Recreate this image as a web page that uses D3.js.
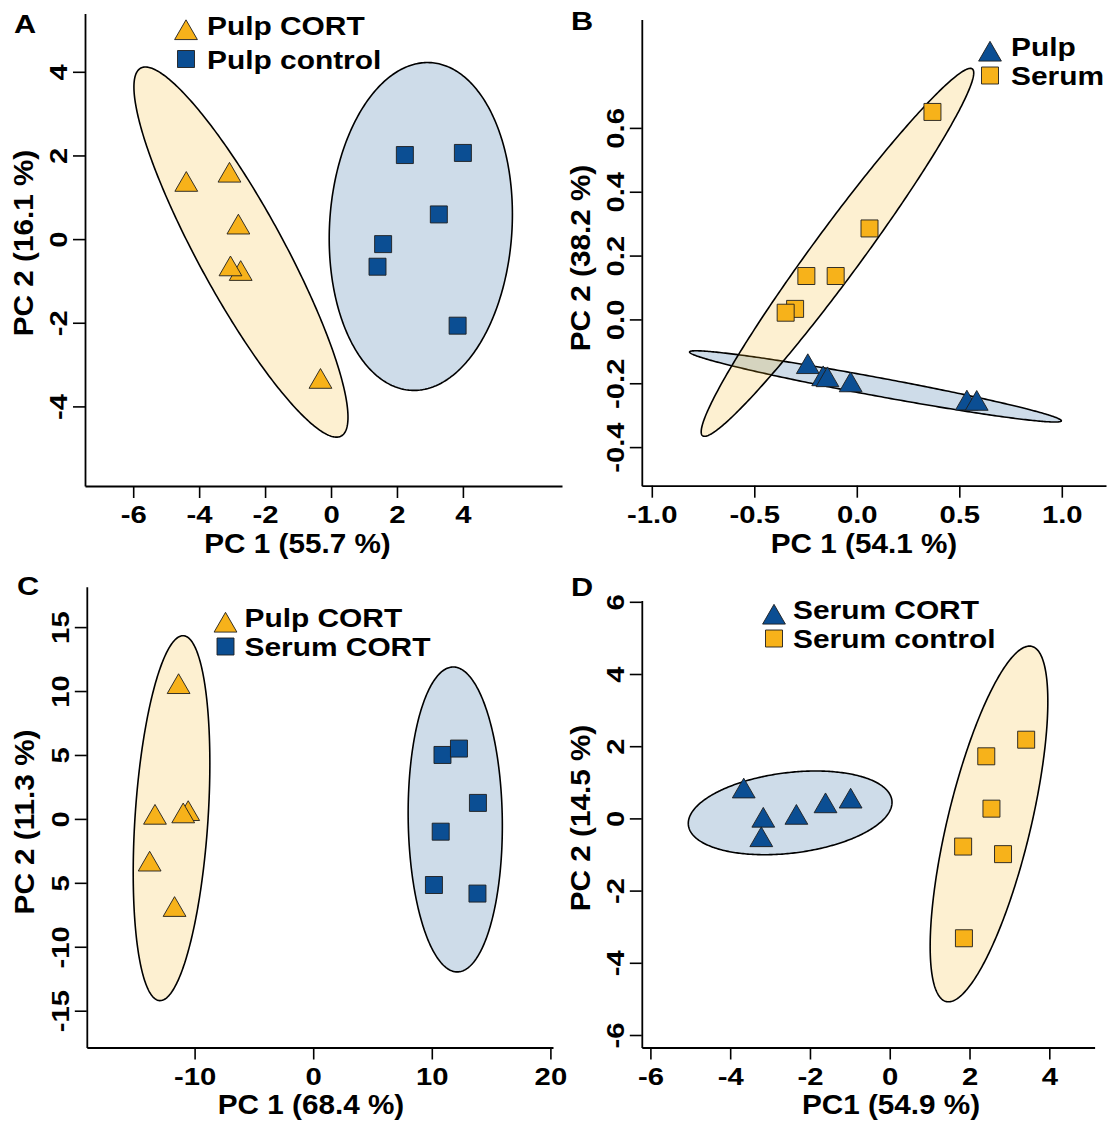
<!DOCTYPE html>
<html>
<head>
<meta charset="utf-8">
<script src="https://cdn.jsdelivr.net/npm/d3@7"></script>
<style>
  body { margin: 0; background: #ffffff; }
  svg { display: block; }
  text { font-family: "Liberation Sans", Arial, Helvetica, sans-serif; font-weight: bold; fill: #000; }
</style>
</head>
<body>
<svg id="chart" width="1107" height="1124"></svg>
<script>
// ---------------- DATA ----------------
// Panel A: Pulp CORT vs Pulp control
const aCortPC1 = [-4.39, -3.08, -2.81, -2.74, -3.05, -0.32];
const aCortPC2 = [1.30, 1.52, 0.28, -0.83, -0.72, -3.41];
const aCtrlPC1 = [2.24, 4.00, 3.27, 1.58, 1.41, 3.84];
const aCtrlPC2 = [2.01, 2.06, 0.59, -0.12, -0.66, -2.07];
const aXTicks = [-6, -4, -2, 0, 2, 4];
const aXLabels = ["-6", "-4", "-2", "0", "2", "4"];
const aYTicks = [-4, -2, 0, 2, 4];
const aYLabels = ["-4", "-2", "0", "2", "4"];

// Panel B: Pulp vs Serum
const bPulpPC1 = [-0.239, -0.164, -0.143, -0.030, 0.537, 0.585];
const bPulpPC2 = [-0.149, -0.187, -0.190, -0.206, -0.263, -0.264];
const bSerumPC1 = [0.369, 0.062, -0.246, -0.103, -0.301, -0.347];
const bSerumPC2 = [0.650, 0.285, 0.136, 0.136, 0.033, 0.021];
const bXTicks = [-1.0, -0.5, 0.0, 0.5, 1.0];
const bXLabels = ["-1.0", "-0.5", "0.0", "0.5", "1.0"];
const bYTicks = [-0.4, -0.2, 0.0, 0.2, 0.4, 0.6];
const bYLabels = ["-0.4", "-0.2", "0.0", "0.2", "0.4", "0.6"];

// Panel C: Pulp CORT vs Serum CORT
const cPulpPC1 = [-11.35, -13.34, -10.54, -10.96, -13.79, -11.69];
const cPulpPC2 = [10.32, 0.10, 0.39, 0.21, -3.56, -7.11];
const cSerumPC1 = [10.90, 12.29, 13.89, 10.75, 10.18, 13.85];
const cSerumPC2 = [5.00, 5.50, 1.25, -1.00, -5.17, -5.84];
const cXTicks = [-10, 0, 10, 20];
const cXLabels = ["-10", "0", "10", "20"];
const cYTicks = [-15, -10, -5, 0, 5, 10, 15];
const cYLabels = ["-15", "-10", "5", "0", "5", "10", "15"];

// Panel D: Serum CORT vs Serum control
const dCortPC1 = [-3.66, -3.17, -3.22, -2.34, -1.61, -0.98];
const dCortPC2 = [0.75, -0.06, -0.60, 0.02, 0.34, 0.47];
const dCtrlPC1 = [3.42, 2.42, 2.55, 1.84, 2.84, 1.86];
const dCtrlPC2 = [2.18, 1.72, 0.27, -0.78, -0.99, -3.32];
const dXTicks = [-6, -4, -2, 0, 2, 4];
const dXLabels = ["-6", "-4", "-2", "0", "2", "4"];
const dYTicks = [-6, -4, -2, 0, 2, 4, 6];
const dYLabels = ["-6", "-4", "-2", "0", "2", "4", "6"];

// ---------------- STYLE ----------------
const ORANGE = "#F7B21A";
const BLUE = "#0B4E93";
const TICK_FONT = 24, TICK_SX = 1.22;
const TITLE_FONT = 27, TITLE_SX = 1.1;
const LEG_FONT = 26, LEG_SX = 1.15;
const LETTER_FONT = 26, LETTER_SX = 1.18;
const CONF_K = Math.sqrt(-2 * Math.log(0.05)); // 95% normal ellipse

const panels = [
  {
    letter: "A", letterPos: [14, 33],
    xRange: [85, 562], yRange: [486, 13.6],
    xAnchor: [-6, 133.2, 4, 462.9], yAnchor: [4, 71.8, -4, 406.4],
    xTicks: aXTicks, xLabels: aXLabels, yTicks: aYTicks, yLabels: aYLabels,
    xTitle: "PC 1 (55.7 %)", xTitlePos: [297.5, 552.5],
    yTitle: "PC 2 (16.1 %)", yTitlePos: [33, 243],
    groups: [
      { xs: aCortPC1, ys: aCortPC2, color: ORANGE, shape: "tri", label: "Pulp CORT" },
      { xs: aCtrlPC1, ys: aCtrlPC2, color: BLUE, shape: "sq", label: "Pulp control" }
    ],
    legend: { mx: 186, tx: 207, base: [34.5, 68.5] }
  },
  {
    letter: "B", letterPos: [571, 30],
    xRange: [641.8, 1106], yRange: [485.7, 19.6],
    xAnchor: [-1, 651.8, 1, 1061.8], yAnchor: [0.6, 127.9, -0.4, 447.1],
    xTicks: bXTicks, xLabels: bXLabels, yTicks: bYTicks, yLabels: bYLabels,
    xTitle: "PC 1 (54.1 %)", xTitlePos: [864, 552.5],
    yTitle: "PC 2 (38.2 %)", yTitlePos: [590, 258],
    groups: [
      { xs: bPulpPC1, ys: bPulpPC2, color: BLUE, shape: "tri", label: "Pulp" },
      { xs: bSerumPC1, ys: bSerumPC2, color: ORANGE, shape: "sq", label: "Serum" }
    ],
    legend: { mx: 990, tx: 1011, base: [56, 85] }
  },
  {
    letter: "C", letterPos: [17, 595],
    xRange: [86.8, 553], yRange: [1047.5, 586.8],
    xAnchor: [-10, 194.6, 20, 550.4], yAnchor: [15, 627.1, -15, 1010.7],
    xTicks: cXTicks, xLabels: cXLabels, yTicks: cYTicks, yLabels: cYLabels,
    xTitle: "PC 1 (68.4 %)", xTitlePos: [311, 1114],
    yTitle: "PC 2 (11.3 %)", yTitlePos: [34, 822],
    groups: [
      { xs: cPulpPC1, ys: cPulpPC2, color: ORANGE, shape: "tri", label: "Pulp CORT" },
      { xs: cSerumPC1, ys: cSerumPC2, color: BLUE, shape: "sq", label: "Serum CORT" }
    ],
    legend: { mx: 225.5, tx: 244.5, base: [627, 656] }
  },
  {
    letter: "D", letterPos: [571, 596],
    xRange: [641.8, 1094.6], yRange: [1047.5, 600.4],
    xAnchor: [-6, 650.4, 4, 1049.3], yAnchor: [6, 601.8, -6, 1035],
    xTicks: dXTicks, xLabels: dXLabels, yTicks: dYTicks, yLabels: dYLabels,
    xTitle: "PC1 (54.9 %)", xTitlePos: [891, 1114],
    yTitle: "PC 2 (14.5 %)", yTitlePos: [590, 818],
    groups: [
      { xs: dCortPC1, ys: dCortPC2, color: BLUE, shape: "tri", label: "Serum CORT" },
      { xs: dCtrlPC1, ys: dCtrlPC2, color: ORANGE, shape: "sq", label: "Serum control" }
    ],
    legend: { mx: 774, tx: 793, base: [619, 648] }
  }
];

// ---------------- HELPERS ----------------
function ellipse(xs, ys) {
  const n = xs.length;
  const mx = d3.mean(xs), my = d3.mean(ys);
  let sxx = 0, syy = 0, sxy = 0;
  for (let i = 0; i < n; i++) {
    const dx = xs[i] - mx, dy = ys[i] - my;
    sxx += dx * dx; syy += dy * dy; sxy += dx * dy;
  }
  sxx /= (n - 1); syy /= (n - 1); sxy /= (n - 1);
  const tr = sxx + syy, det = sxx * syy - sxy * sxy;
  const disc = Math.sqrt(Math.max(tr * tr / 4 - det, 0));
  const l1 = tr / 2 + disc, l2 = Math.max(tr / 2 - disc, 0);
  let v1x, v1y;
  if (Math.abs(sxy) > 1e-12) { v1x = l1 - syy; v1y = sxy; }
  else if (sxx >= syy) { v1x = 1; v1y = 0; } else { v1x = 0; v1y = 1; }
  const nv = Math.hypot(v1x, v1y); v1x /= nv; v1y /= nv;
  const v2x = -v1y, v2y = v1x;
  const a = CONF_K * Math.sqrt(l1), b = CONF_K * Math.sqrt(l2);
  return d3.range(0, 360, 1).map(deg => {
    const t = deg * Math.PI / 180;
    const c = Math.cos(t), s = Math.sin(t);
    return [mx + a * c * v1x + b * s * v2x, my + a * c * v1y + b * s * v2y];
  });
}

const triSym = d3.symbol().type(d3.symbolTriangle).size(225);
const sqSym = d3.symbol().type(d3.symbolSquare).size(289);

function stretchText(g, str, x, y, size, sx, anchor, rotate) {
  g.append("text")
    .attr("transform", `translate(${x},${y})${rotate ? " rotate(-90)" : ""} scale(${sx},1)`)
    .attr("text-anchor", anchor)
    .style("font-size", size + "px")
    .text(str);
}

function drawMarker(g, shape, color, px, py) {
  g.append("path")
    .attr("d", shape === "tri" ? triSym() : sqSym())
    .attr("transform", `translate(${px},${py})`)
    .attr("fill", color)
    .attr("stroke", "#1e1e1e")
    .attr("stroke-width", 0.9);
}

// ---------------- DRAW ----------------
const svg = d3.select("#chart");
svg.append("rect").attr("width", 1107).attr("height", 1124).attr("fill", "#fff");

panels.forEach(p => {
  const g = svg.append("g");
  const xa = d3.scaleLinear().domain([p.xAnchor[0], p.xAnchor[2]]).range([p.xAnchor[1], p.xAnchor[3]]);
  const ya = d3.scaleLinear().domain([p.yAnchor[0], p.yAnchor[2]]).range([p.yAnchor[1], p.yAnchor[3]]);
  const x = d3.scaleLinear().domain([xa.invert(p.xRange[0]), xa.invert(p.xRange[1])]).range(p.xRange);
  const y = d3.scaleLinear().domain([ya.invert(p.yRange[0]), ya.invert(p.yRange[1])]).range(p.yRange);

  // ellipses (95% confidence, computed from the points)
  const line = d3.line().x(d => x(d[0])).y(d => y(d[1])).curve(d3.curveLinearClosed);
  p.groups.forEach(gr => {
    g.append("path")
      .attr("d", line(ellipse(gr.xs, gr.ys)))
      .attr("fill", gr.color)
      .attr("fill-opacity", 0.2)
      .attr("stroke", "#000")
      .attr("stroke-width", 1.6);
  });

  // points
  p.groups.forEach(gr => {
    gr.xs.forEach((v, i) => drawMarker(g, gr.shape, gr.color, x(v), y(gr.ys[i])));
  });

  // axes
  const xAxis = d3.axisBottom(x).tickValues(p.xTicks).tickSize(12).tickSizeOuter(0)
    .tickFormat((d, i) => p.xLabels[i]);
  const yAxis = d3.axisLeft(y).tickValues(p.yTicks).tickSize(12).tickSizeOuter(0)
    .tickFormat((d, i) => p.yLabels[i]);

  const gx = g.append("g").attr("transform", `translate(0,${p.yRange[0]})`).call(xAxis);
  const gy = g.append("g").attr("transform", `translate(${p.xRange[0]},0)`).call(yAxis);
  [gx, gy].forEach(ax => {
    ax.attr("font-family", null).attr("font-size", null);
    ax.select(".domain").attr("stroke", "#000").attr("stroke-width", 1.8);
    ax.selectAll(".tick line").attr("stroke", "#000").attr("stroke-width", 1.6);
  });
  gx.selectAll(".tick text")
    .attr("y", null).attr("dy", null).attr("fill", null)
    .attr("transform", `translate(0,37) scale(${TICK_SX},1)`)
    .attr("text-anchor", "middle")
    .style("font-size", TICK_FONT + "px");
  gy.selectAll(".tick text")
    .attr("x", null).attr("dy", null).attr("fill", null)
    .attr("transform", `translate(-18,0) rotate(-90) scale(${TICK_SX},1)`)
    .attr("text-anchor", "middle")
    .style("font-size", TICK_FONT + "px");

  // titles
  stretchText(g, p.xTitle, p.xTitlePos[0], p.xTitlePos[1], TITLE_FONT, TITLE_SX, "middle", false);
  stretchText(g, p.yTitle, p.yTitlePos[0], p.yTitlePos[1], TITLE_FONT, TITLE_SX, "middle", true);

  // panel letter
  stretchText(g, p.letter, p.letterPos[0], p.letterPos[1], LETTER_FONT, LETTER_SX, "start", false);

  // legend
  p.groups.forEach((gr, i) => {
    const base = p.legend.base[i];
    const my = gr.shape === "tri" ? base - 1.5 : base - 9.5;
    drawMarker(g, gr.shape, gr.color, p.legend.mx, my);
    stretchText(g, gr.label, p.legend.tx, base, LEG_FONT, LEG_SX, "start", false);
  });
});
</script>
</body>
</html>
